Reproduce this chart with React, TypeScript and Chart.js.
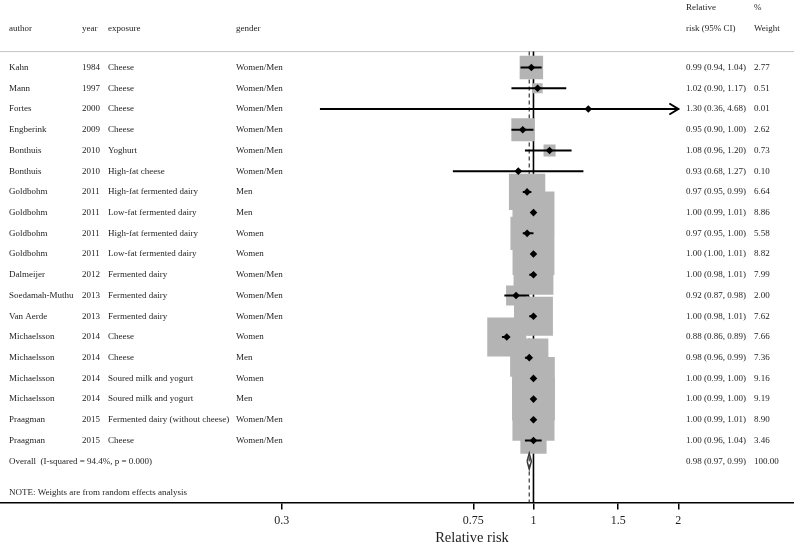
import React, { useEffect, useRef } from "react";
import { Chart, registerables } from "chart.js";

Chart.register(...registerables);

// ---------- data ----------
const authors = [
  "Kahn", "Mann", "Fortes", "Engberink", "Bonthuis", "Bonthuis",
  "Goldbohm", "Goldbohm", "Goldbohm", "Goldbohm", "Dalmeijer",
  "Soedamah-Muthu", "Van Aerde", "Michaelsson", "Michaelsson",
  "Michaelsson", "Michaelsson", "Praagman", "Praagman",
];
const years = [
  "1984", "1997", "2000", "2009", "2010", "2010", "2011", "2011", "2011", "2011",
  "2012", "2013", "2013", "2014", "2014", "2014", "2014", "2015", "2015",
];
const exposures = [
  "Cheese", "Cheese", "Cheese", "Cheese", "Yoghurt", "High-fat cheese",
  "High-fat fermented dairy", "Low-fat fermented dairy",
  "High-fat fermented dairy", "Low-fat fermented dairy",
  "Fermented dairy", "Fermented dairy", "Fermented dairy",
  "Cheese", "Cheese", "Soured milk and yogurt", "Soured milk and yogurt",
  "Fermented dairy (without cheese)", "Cheese",
];
const genders = [
  "Women/Men", "Women/Men", "Women/Men", "Women/Men", "Women/Men", "Women/Men",
  "Men", "Men", "Women", "Women", "Women/Men", "Women/Men", "Women/Men",
  "Women", "Men", "Women", "Men", "Women/Men", "Women/Men",
];
const estimates = [0.99, 1.02, 1.30, 0.95, 1.08, 0.93, 0.97, 1.00, 0.97, 1.00, 1.00, 0.92, 1.00, 0.88, 0.98, 1.00, 1.00, 1.00, 1.00];
const lowers = [0.94, 0.90, 0.36, 0.90, 0.96, 0.68, 0.95, 0.99, 0.95, 1.00, 0.98, 0.87, 0.98, 0.86, 0.96, 0.99, 0.99, 0.99, 0.96];
const uppers = [1.04, 1.17, 4.68, 1.00, 1.20, 1.27, 0.99, 1.01, 1.00, 1.01, 1.01, 0.98, 1.01, 0.89, 0.99, 1.00, 1.00, 1.01, 1.04];
const weights = [2.77, 0.51, 0.01, 2.62, 0.73, 0.10, 6.64, 8.86, 5.58, 8.82, 7.99, 2.00, 7.62, 7.66, 7.36, 9.16, 9.19, 8.90, 3.46];

const overallLabel = "Overall  (I-squared = 94.4%, p = 0.000)";
const overallEstimate = 0.98;
const overallLower = 0.97;
const overallUpper = 0.99;
const overallWeight = 100.0;
const noteText = "NOTE: Weights are from random effects analysis";

const xTicks = [0.3, 0.75, 1, 1.5, 2];
const xTitle = "Relative risk";
const nullValue = 1;
const ciLimit = 2; // CIs beyond this are truncated with an arrow

// ---------- layout constants ----------
const W = 794;
const H = 547;
const X_MIN = 0.0779;
const X_MAX = 3.478;
const Y_MIN = -3.26;
const Y_MAX = 20.99;
const ROW_HEAD1 = -2.9;
const ROW_HEAD2 = -1.9;
const ROW_SEP = -0.77;
const ROW_NOTE = 20.5;
const BOX_K = 14.1;
const DIAMOND_HALF = 0.38;

const FONT = "'Liberation Serif', 'Times New Roman', serif";
const TEXT_COLOR = "#1e1e1e";

const COL_AUTHOR = 9;
const COL_YEAR = 82;
const COL_EXPOSURE = 108;
const COL_GENDER = 236;
const COL_EST = 686;
const COL_WEIGHT = 754;

const nStudies = estimates.length;
const overallRow = nStudies;

function fmtCI(e: number, l: number, u: number) {
  return `${e.toFixed(2)} (${l.toFixed(2)}, ${u.toFixed(2)})`;
}

const forestPlugin = {
  id: "forestText",
  beforeDatasetsDraw(chart: any) {
    const { ctx } = chart;
    const ys = chart.scales.y;
    const yy = ys.getPixelForValue(ROW_SEP);
    ctx.save();
    ctx.strokeStyle = "#c4c4c4";
    ctx.lineWidth = 1;
    ctx.beginPath();
    ctx.moveTo(0, yy);
    ctx.lineTo(chart.width, yy);
    ctx.stroke();
    ctx.restore();
  },
  afterDatasetsDraw(chart: any) {
    const { ctx } = chart;
    const xs = chart.scales.x;
    const ys = chart.scales.y;
    // arrows for truncated CIs
    ctx.save();
    ctx.strokeStyle = "#000";
    ctx.lineWidth = 2;
    ctx.lineCap = "butt";
    ctx.lineJoin = "miter";
    for (let i = 0; i < nStudies; i++) {
      if (uppers[i] > ciLimit) {
        const px = xs.getPixelForValue(ciLimit);
        const py = ys.getPixelForValue(i);
        ctx.beginPath();
        ctx.moveTo(px - 9, py - 5.5);
        ctx.lineTo(px, py);
        ctx.lineTo(px - 9, py + 5.5);
        ctx.stroke();
      }
    }
    ctx.restore();
  },
  afterDraw(chart: any) {
    const { ctx } = chart;
    const ys = chart.scales.y;
    ctx.save();
    ctx.fillStyle = TEXT_COLOR;
    ctx.font = `9px ${FONT}`;
    ctx.textBaseline = "middle";
    ctx.textAlign = "left";
    const h1 = ys.getPixelForValue(ROW_HEAD1);
    const h2 = ys.getPixelForValue(ROW_HEAD2);
    ctx.fillText("Relative", COL_EST, h1);
    ctx.fillText("%", COL_WEIGHT, h1);
    ctx.fillText("author", COL_AUTHOR, h2);
    ctx.fillText("year", COL_YEAR, h2);
    ctx.fillText("exposure", COL_EXPOSURE, h2);
    ctx.fillText("gender", COL_GENDER, h2);
    ctx.fillText("risk (95% CI)", COL_EST, h2);
    ctx.fillText("Weight", COL_WEIGHT, h2);
    for (let i = 0; i < nStudies; i++) {
      const py = ys.getPixelForValue(i);
      ctx.fillText(authors[i], COL_AUTHOR, py);
      ctx.fillText(years[i], COL_YEAR, py);
      ctx.fillText(exposures[i], COL_EXPOSURE, py);
      ctx.fillText(genders[i], COL_GENDER, py);
      ctx.fillText(fmtCI(estimates[i], lowers[i], uppers[i]), COL_EST, py);
      ctx.fillText(weights[i].toFixed(2), COL_WEIGHT, py);
    }
    const po = ys.getPixelForValue(overallRow);
    ctx.fillText(overallLabel, COL_AUTHOR, po);
    ctx.fillText(fmtCI(overallEstimate, overallLower, overallUpper), COL_EST, po);
    ctx.fillText(overallWeight.toFixed(2), COL_WEIGHT, po);
    ctx.fillText(noteText, COL_AUTHOR, ys.getPixelForValue(ROW_NOTE));
    // axis title
    ctx.font = `14.5px ${FONT}`;
    ctx.textAlign = "center";
    ctx.fillText(xTitle, 472, 538);
    ctx.restore();
  },
};

export default function App() {
  const ref = useRef<HTMLCanvasElement | null>(null);

  useEffect(() => {
    if (!ref.current) return;
    const boxData = estimates.map((e, i) => ({ x: e, y: i }));
    const ciData: any[] = [];
    for (let i = 0; i < nStudies; i++) {
      ciData.push({ x: lowers[i], y: i });
      ciData.push({ x: Math.min(uppers[i], ciLimit), y: i });
      ciData.push({ x: uppers[i], y: null });
    }
    const diamond = [
      { x: overallLower, y: overallRow },
      { x: overallEstimate, y: overallRow - DIAMOND_HALF },
      { x: overallUpper, y: overallRow },
      { x: overallEstimate, y: overallRow + DIAMOND_HALF },
      { x: overallLower, y: overallRow },
    ];

    const chart = new Chart(ref.current, {
      type: "scatter",
      data: {
        datasets: [
          {
            type: "line",
            data: diamond,
            borderColor: "#3a3a3a",
            borderWidth: 1.5,
            fill: false,
            pointRadius: 0,
            tension: 0,
            order: 1,
          } as any,
          {
            type: "scatter",
            data: boxData,
            pointStyle: "rectRot",
            pointRadius: 3.8,
            backgroundColor: "#000",
            borderWidth: 0,
            order: 2,
          } as any,
          {
            type: "line",
            data: ciData,
            borderColor: "#000",
            borderWidth: 2,
            pointRadius: 0,
            spanGaps: false,
            tension: 0,
            order: 3,
          } as any,
          {
            type: "scatter",
            data: boxData,
            pointStyle: "rect",
            pointRadius: (c: any) => (BOX_K * Math.sqrt(weights[c.dataIndex])) / Math.SQRT2,
            backgroundColor: "#b4b4b4",
            borderWidth: 0,
            order: 4,
          } as any,
          {
            type: "line",
            data: [
              { x: overallEstimate, y: ROW_SEP },
              { x: overallEstimate, y: Y_MAX },
            ],
            borderColor: "#444",
            borderWidth: 1.3,
            borderDash: [4, 3],
            pointRadius: 0,
            order: 5,
          } as any,
          {
            type: "line",
            data: [
              { x: nullValue, y: ROW_SEP },
              { x: nullValue, y: Y_MAX },
            ],
            borderColor: "#000",
            borderWidth: 1.6,
            pointRadius: 0,
            order: 6,
          } as any,
        ],
      },
      options: {
        animation: false,
        responsive: false,
        events: [],
        layout: { padding: 0, autoPadding: false },
        plugins: {
          legend: { display: false },
          tooltip: { enabled: false },
        },
        scales: {
          x: {
            type: "logarithmic",
            position: "bottom",
            min: X_MIN,
            max: X_MAX,
            bounds: "data",
            afterBuildTicks: (s: any) => {
              s.ticks = xTicks.map((v) => ({ value: v }));
            },
            afterFit: (s: any) => {
              s.height = H - 502.5;
            },
            ticks: {
              autoSkip: false,
              maxRotation: 0,
              padding: 4,
              color: TEXT_COLOR,
              font: { family: FONT, size: 12 },
              callback: (v: any) => String(v),
            },
            grid: {
              display: true,
              drawOnChartArea: false,
              drawTicks: true,
              tickLength: 7,
              color: "#000",
              lineWidth: 1.5,
            },
            border: { display: true, color: "#000", width: 1.6 },
            title: { display: false },
          },
          y: {
            type: "linear",
            display: false,
            reverse: true,
            min: Y_MIN,
            max: Y_MAX,
          },
        },
      } as any,
      plugins: [forestPlugin],
    });
    return () => chart.destroy();
  }, []);

  return (
    <div style={{ position: "fixed", left: 0, top: 0, width: W, height: H, background: "#fff" }}>
      <canvas ref={ref} width={W} height={H} style={{ display: "block" }} />
    </div>
  );
}
